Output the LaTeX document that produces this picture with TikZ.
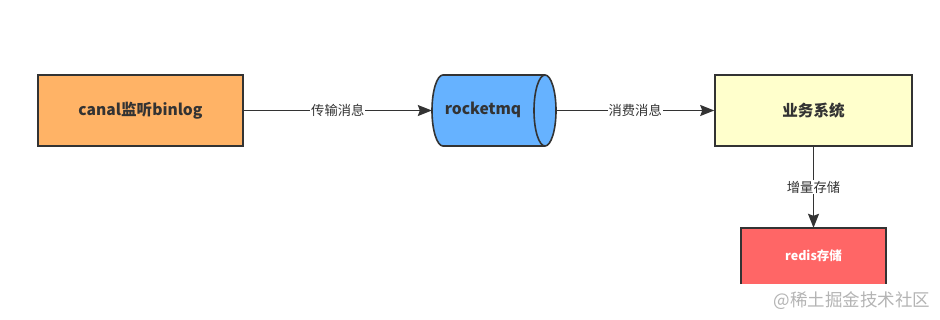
\documentclass[tikz,border=0pt]{standalone}
\usepackage{fontspec}
\setmainfont{Noto Sans CJK SC}
\usetikzlibrary{arrows.meta}
\definecolor{ln}{HTML}{333333}
\definecolor{canalc}{HTML}{FFB366}
\definecolor{mqc}{HTML}{66B2FF}
\definecolor{bizc}{HTML}{FFFFCC}
\definecolor{redisc}{HTML}{FF6666}
\definecolor{wm}{HTML}{B4B4B4}
\begin{document}
\begin{tikzpicture}[x=1pt,y=-1pt,
  box/.style={draw=ln, line width=1.6pt, inner sep=0pt, text=ln,
    font=\fontsize{15.6}{18}\selectfont\bfseries},
  conn/.style={draw=ln, line width=1.4pt, -{Stealth[length=14pt,width=11pt,inset=2pt]}},
  lbl/.style={fill=white, inner sep=1pt, text=ln, font=\fontsize{13.3}{15}\selectfont},
  shell/.style={draw=ln, line width=1.6pt}]
\useasboundingbox[fill=white] (0,0) rectangle (940,319);
% canal
\node[box, fill=canalc, minimum width=205pt, minimum height=71pt] (canal) at (140.5,110.5) {canal监听binlog};
% rocketmq cylinder
\node[minimum width=124pt, minimum height=71pt, inner sep=0pt] (mq) at (494,110.5) {};
\path[shell, fill=mqc] (443,75) -- (545,75)
  arc[start angle=-90, end angle=90, x radius=11, y radius=35.5] -- (443,146)
  arc[start angle=90, end angle=270, x radius=11, y radius=35.5] -- cycle;
\draw[shell] (545,75) arc[start angle=-90, end angle=-270, x radius=11, y radius=35.5];
\node[text=ln, font=\fontsize{15.6}{18}\selectfont\bfseries] (mqt) at (483,110) {rocketmq};
% business
\node[box, fill=bizc, minimum width=197pt, minimum height=71pt] (biz) at (813.5,110.5) {业务系统};
% redis (bottom hidden)
\node[fill=redisc, inner sep=0pt, minimum width=145pt, minimum height=56pt, text=white,
  font=\fontsize{12.5}{14}\selectfont\bfseries] (redis) at (813.5,256) {redis存储};
\draw[shell] (redis.south west) -- (redis.north west) -- (redis.north east) -- (redis.south east);
% connectors
\draw[conn] (canal.east) -- node[lbl] (l1) {传输消息} (mq.west);
\draw[conn] (mq.east) -- node[lbl] (l2) {消费消息} (biz.west);
\draw[conn] (biz.south) -- node[lbl] (l3) {增量存储} (redis.north);
% watermark
\node[text=wm, font=\fontsize{17.5}{20}\selectfont, anchor=east] (wmk) at (934,301) {@稀土掘金技术社区};
\end{tikzpicture}
\end{document}
